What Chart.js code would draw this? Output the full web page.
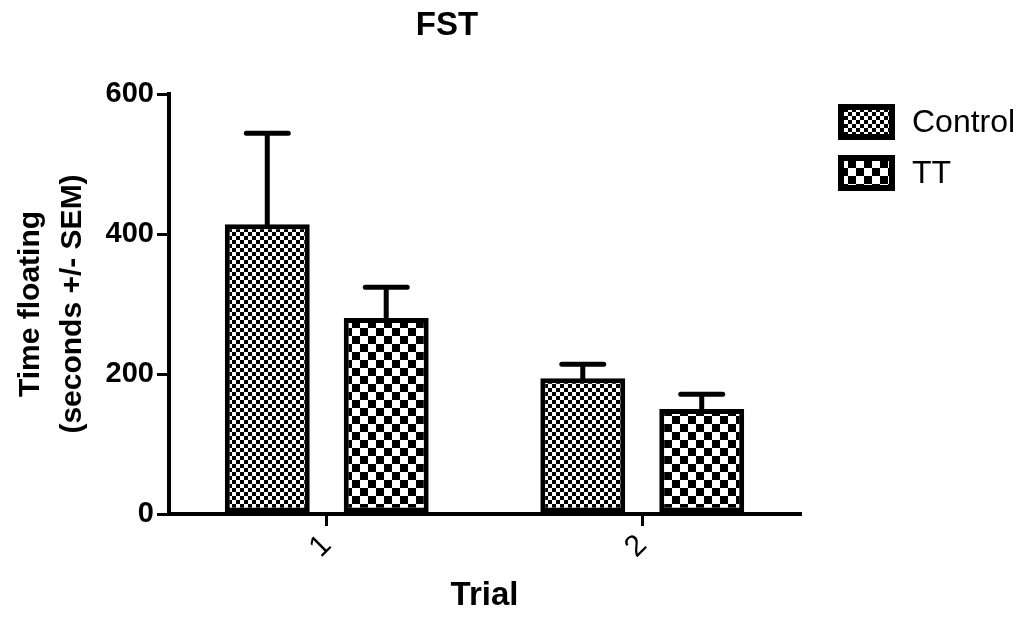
<!DOCTYPE html>
<html>
<head>
<meta charset="utf-8">
<script src="https://cdn.jsdelivr.net/npm/chart.js@4"></script>
<style>
  html, body { margin: 0; padding: 0; background: #fff; }
  #wrap { width: 1032px; height: 620px; }
</style>
</head>
<body>
<div id="wrap"><canvas id="fstChart" width="1032" height="620"></canvas></div>
<script>
// values
const categories = ['1', '2'];
const controlMeans = [414, 194];
const controlSem = [130, 20];
const ttMeans = [280, 150];
const ttSem = [44, 21];
const yTicks = [0, 200, 400, 600];
const seriesNames = ['Control', 'TT'];
const chartTitle = 'FST';

const FONT = '"Liberation Sans", Arial, sans-serif';

// checkerboard fills
function checker(size) {
    const c = document.createElement('canvas');
    c.width = size * 2;
    c.height = size * 2;
    const g = c.getContext('2d');
    g.fillStyle = '#fff';
    g.fillRect(0, 0, size * 2, size * 2);
    g.fillStyle = '#000';
    g.fillRect(0, 0, size, size);
    g.fillRect(size, size, size, size);
    return g.createPattern(c, 'repeat');
}
const fineCheck = checker(4);
const coarseCheck = checker(8);

const semBySeries = [controlSem, ttSem];

// error bars (upper only) through the y scale
const errorBars = {
    id: 'errorBars',
    afterDatasetsDraw(chart) {
        const ctx = chart.ctx;
        const y = chart.scales.y;
        ctx.save();
        ctx.strokeStyle = '#000';
        ctx.lineWidth = 5;
        ctx.lineCap = 'round';
        chart.data.datasets.forEach((ds, di) => {
            const meta = chart.getDatasetMeta(di);
            meta.data.forEach((bar, i) => {
                const top = y.getPixelForValue(ds.data[i] + semBySeries[di][i]);
                ctx.beginPath();
                ctx.moveTo(bar.x, bar.y);
                ctx.lineTo(bar.x, top);
                ctx.moveTo(bar.x - 21, top);
                ctx.lineTo(bar.x + 21, top);
                ctx.stroke();
            });
        });
        ctx.restore();
    }
};

// title a bit left of the plot centre, legend top right
const extras = {
    id: 'extras',
    afterDraw(chart) {
        const ctx = chart.ctx;
        ctx.save();
        ctx.fillStyle = '#000';
        ctx.font = 'bold 33px ' + FONT;
        ctx.textAlign = 'center';
        ctx.textBaseline = 'middle';
        ctx.fillText(chartTitle, 447, 26);

        chart.data.datasets.forEach((ds, i) => {
            const bx = 838, by = 104 + i * 51, bw = 57, bh = 36;
            ctx.fillStyle = '#000';
            ctx.fillRect(bx, by, bw, bh);
            ctx.fillStyle = ds.backgroundColor;
            ctx.fillRect(bx + 6, by + 6, bw - 12, bh - 12);
            ctx.fillStyle = '#000';
            ctx.font = '32px ' + FONT;
            ctx.textBaseline = 'middle';
            ctx.textAlign = 'left';
            ctx.fillText(ds.label, 912, by + bh / 2 + 1);
        });
        ctx.restore();
    }
};

const ctx = document.getElementById('fstChart').getContext('2d');
new Chart(ctx, {
    type: 'bar',
    data: {
        labels: categories,
        datasets: [{
            label: seriesNames[0],
            data: controlMeans,
            backgroundColor: fineCheck,
            borderColor: '#000',
            borderWidth: 5,
            borderSkipped: false,
            categoryPercentage: 0.754,
            barPercentage: 0.714,
        }, {
            label: seriesNames[1],
            data: ttMeans,
            backgroundColor: coarseCheck,
            borderColor: '#000',
            borderWidth: 5,
            borderSkipped: false,
            categoryPercentage: 0.754,
            barPercentage: 0.714,
        }],
    },
    options: {
        responsive: false,
        animation: false,
        layout: { padding: { left: 0, right: 232, top: 94, bottom: 0 } },
        plugins: {
            legend: { display: false },
            tooltip: { enabled: false },
            title: { display: false },
        },
        scales: {
            x: {
                afterFit: (scale) => { scale.height = 106; },
                grid: { display: true, offset: false, drawOnChartArea: false, drawTicks: true, tickLength: 12, color: '#000', lineWidth: 3 },
                border: { display: true, color: '#000', width: 4 },
                ticks: {
                    color: '#000',
                    font: { family: FONT, size: 30 },
                    minRotation: 45,
                    maxRotation: 45,
                    padding: 2,
                },
                title: {
                    display: true,
                    text: 'Trial',
                    color: '#000',
                    font: { family: FONT, size: 33, weight: 'bold' },
                    padding: { top: 0, bottom: 4 },
                },
            },
            y: {
                min: 0,
                max: 600,
                afterFit: (scale) => { scale.width = 169; },
                afterBuildTicks: (scale) => { scale.ticks = yTicks.map(v => ({ value: v })); },
                grid: { display: true, drawOnChartArea: false, drawTicks: true, tickLength: 12, color: '#000', lineWidth: 3 },
                border: { display: true, color: '#000', width: 4 },
                ticks: {
                    color: '#000',
                    font: { family: FONT, size: 29, weight: 'bold' },
                    padding: 3,
                },
                title: {
                    display: true,
                    text: ['Time floating', '(seconds +/- SEM)'],
                    color: '#000',
                    font: { family: FONT, size: 30, weight: 'bold', lineHeight: 1.4 },
                    padding: { top: 10, bottom: 0 },
                },
            },
        },
    },
    plugins: [errorBars, extras],
});
</script>
</body>
</html>
